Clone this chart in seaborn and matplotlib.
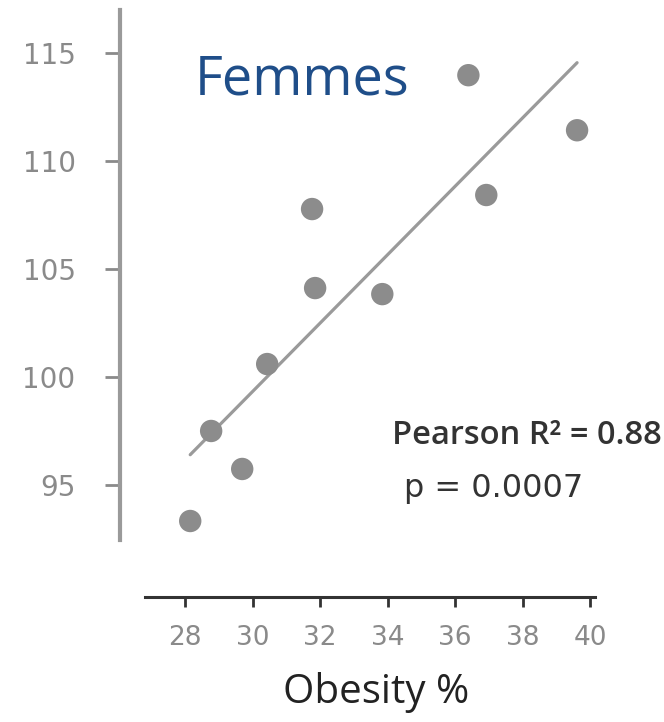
import matplotlib
matplotlib.use("Agg")
import matplotlib.pyplot as plt
import seaborn as sns
import pandas as pd

obesity = [28.15, 28.77, 29.69, 30.43, 31.76, 31.85, 33.84, 36.39, 36.92, 39.61]
values = [93.33, 97.5, 95.74, 100.6, 107.78, 104.12, 103.84, 113.98, 108.43, 111.43]
x_ticks = [28, 30, 32, 34, 36, 38, 40]
y_ticks = [95, 100, 105, 110, 115]
title = "Femmes"
xlabel = "Obesity %"
stat1 = "Pearson R² = 0.88"
stat2 = "p = 0.0007"

df = pd.DataFrame({"obesity": obesity, "value": values})

sns.set_theme(style="white")
plt.rcParams["font.family"] = ["Open Sans", "DejaVu Sans"]

fig = plt.figure(figsize=(6.64, 7.22), dpi=100)
ax = fig.add_axes([120/664, 1-540/722, (597-120)/664, (540-10)/722])

sns.regplot(data=df, x="obesity", y="value", ax=ax, ci=None,
            scatter_kws=dict(s=260, color="#8c8c8c", edgecolor="none", alpha=1, zorder=3),
            line_kws=dict(color="#9a9a9a", lw=2.3, zorder=2))

ax.set_xlim(26.07, 40.2)
ax.set_ylim(92.45, 117.0)
ax.set_xticks(x_ticks)
ax.set_yticks(y_ticks)

for s in ["top", "right"]:
    ax.spines[s].set_visible(False)
ax.spines["left"].set_color("#9a9a9a")
ax.spines["left"].set_linewidth(3)
ax.spines["bottom"].set_position(("outward", 41))
ax.spines["bottom"].set_bounds(26.8, 40.15)
ax.spines["bottom"].set_color("#333333")
ax.spines["bottom"].set_linewidth(2.2)

ax.tick_params(axis="y", which="both", left=True, direction="out", length=11, width=2,
               color="#8a8a8a", labelcolor="#8a8a8a", labelsize=20, pad=21)
ax.tick_params(axis="x", which="both", bottom=True, direction="out", length=7, width=2,
               color="#333333", labelcolor="#8a8a8a", labelsize=19, pad=13)
for lab in ax.get_xticklabels() + ax.get_yticklabels():
    lab.set_family(["DejaVu Sans"])

ax.set_xlabel(xlabel, fontsize=29, color="#222222", labelpad=15)
ax.xaxis.label.set_x((376 - 120) / 477)
ax.set_ylabel("")

fig.text(195/664, 1-80/722, title, fontsize=39,
         color="#1f4e89", ha="left", va="center")
fig.text(662/664, 1-435/722, stat1, fontsize=23.5, fontweight="semibold",
         color="#333333", ha="right", va="center")
fig.text(494/664, 1-489/722, stat2, fontsize=23, color="#333333",
         ha="center", va="center", family=["DejaVu Sans"])

fig.savefig("out.png", dpi=100, facecolor="white")
